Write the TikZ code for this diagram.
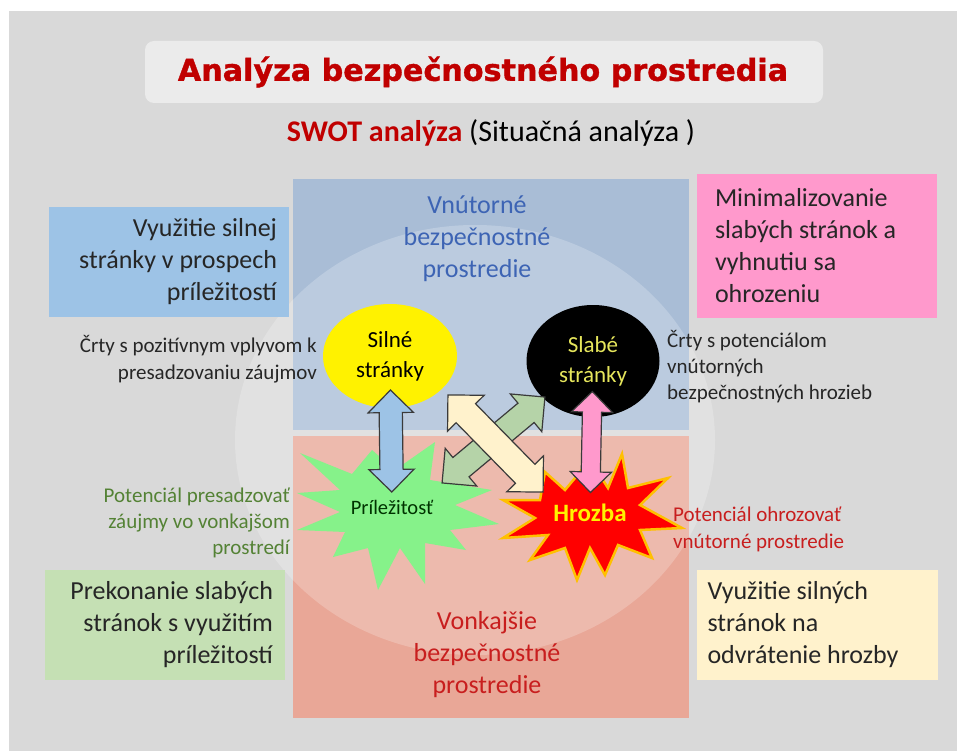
\documentclass[tikz,border=0pt]{standalone}
\usepackage{fontspec}
\setmainfont{Carlito}
\newfontfamily\titlefont{DejaVu Sans Bold}[FakeBold=1.2]
\usetikzlibrary{shapes.geometric,shapes.arrows}
\definecolor{slide}{HTML}{D9D9D9}
\definecolor{titlebox}{HTML}{EBEBEB}
\definecolor{darkred}{HTML}{C00000}
\definecolor{innerblue}{HTML}{A9BDD6}
\definecolor{outerred}{HTML}{E9A797}
\definecolor{boxblue}{HTML}{9DC3E6}
\definecolor{boxpink}{HTML}{FF99CC}
\definecolor{boxgreen}{HTML}{C5E0B4}
\definecolor{boxyellow}{HTML}{FFF2CC}
\definecolor{textdark}{HTML}{262626}
\definecolor{innertext}{HTML}{3D64B4}
\definecolor{outertext}{HTML}{C81E1E}
\definecolor{oppgreen}{HTML}{548235}
\definecolor{starred}{HTML}{FF0000}
\definecolor{starrim}{HTML}{FFC000}
\definecolor{stargreen}{HTML}{86F28A}
\definecolor{weakyellow}{HTML}{E6E65C}
\definecolor{arrowline}{HTML}{3A3A3A}
\definecolor{arrowblue}{HTML}{9DC3E6}
\definecolor{arrowpink}{HTML}{FF99CC}
\definecolor{arrowcream}{HTML}{FFF2CC}
\definecolor{arrowgreen}{HTML}{B5D3A8}
\tikzset{
  infobox/.style={inner ysep=0pt, minimum width=240pt, minimum height=110pt, text=textdark, font=\fontsize{26}{32}\selectfont},
  note/.style={inner sep=0pt, font=\fontsize{21}{26}\selectfont},
  fatarrow/.style={double arrow, draw=arrowline, line width=1.2pt, inner xsep=0pt, sloped},
}
\begin{document}
\begin{tikzpicture}[x=1pt, y=-1pt]
	\useasboundingbox (0,0) rectangle (957,751);
	\fill[white] (0,0) rectangle (957,751);
	\fill[slide] (9,11) rectangle (957,751);
	% title
	\fill[titlebox, rounded corners=9pt] (145,41) rectangle (823,103);
	\node (title) at (483,72) {\titlefont\fontsize{30.2}{34}\selectfont\color{darkred}Analýza bezpečnostného prostredia};
	\node (swot) at (491,133) {\fontsize{30}{36}\selectfont\textbf{\color{darkred}SWOT analýza} (Situačná analýza )};
	% environments
	\fill[innerblue] (293,179) rectangle (689,430);
	\fill[outerred] (293,436) rectangle (689,718);
	\fill[white, opacity=0.22] (475,440) ellipse [x radius=240pt, y radius=215pt];
	\node[align=center, text=innertext, font=\fontsize{26}{32}\selectfont] (inner) at (477,239) {Vnútorné\\bezpečnostné\\prostredie};
	\node[align=center, text=outertext, font=\fontsize{26}{32}\selectfont] (outer) at (487,655) {Vonkajšie\\bezpečnostné\\prostredie};
	% strategy boxes
	\node[infobox, fill=boxblue, inner xsep=12pt, text width=216pt, align=flush right] (so) at (169,262) {Využitie silnej\\stránky v prospech\\príležitostí};
	\node[infobox, fill=boxpink, inner xsep=18pt, text width=204pt, align=flush left, minimum height=143pt] (wt) at (817,246) {Minimalizovanie\\slabých stránok a\\vyhnutiu sa\\ohrozeniu};
	\node[infobox, fill=boxgreen, inner xsep=12pt, text width=216pt, align=flush right] (wo) at (165,625) {Prekonanie slabých\\stránok s využitím\\príležitostí};
	\node[infobox, fill=boxyellow, inner xsep=11pt, text width=219pt, align=flush left] (st) at (817,625) {Využitie silných\\stránok na\\odvrátenie hrozby};
	% notes
	\node[note, align=right, anchor=east, text=textdark, font=\fontsize{21}{27}\selectfont] (snote) at (317,359) {Črty s pozitívnym vplyvom k\\presadzovaniu záujmov};
	\node[note, align=left, anchor=west, text=textdark] (wnote) at (667,367) {Črty s potenciálom\\vnútorných\\bezpečnostných hrozieb};
	\node[note, align=right, anchor=east, text=oppgreen] (onote) at (290,523) {Potenciál presadzovať\\záujmy vo vonkajšom\\prostredí};
	\node[note, align=left, anchor=west, text=outertext, font=\fontsize{21}{27}\selectfont] (tnote) at (673,529) {Potenciál ohrozovať\\vnútorné prostredie};
	% opportunity and threat bursts
	\fill[stargreen] (297,493) -- (340,490) -- (300,453) -- (352,474) -- (372,450) -- (395,470) -- (435,442) -- (430,480) -- (492,490) -- (455,505) -- (499,524) -- (450,530) -- (466,550) -- (425,543) -- (425,584) -- (400,548) -- (378,590) -- (368,548) -- (333,557) -- (345,532) -- (297,530) -- (340,512) -- cycle;
	\draw[starrim, fill=starred, line width=2.5pt, line join=miter] (503,500) -- (540,500) -- (545,472) -- (565,490) -- (590,460) -- (608,488) -- (622,454) -- (628,488) -- (668,478) -- (640,505) -- (682,528) -- (640,530) -- (652,558) -- (618,545) -- (605,575) -- (590,548) -- (577,580) -- (565,548) -- (530,560) -- (548,535) -- (503,538) -- (535,518) -- cycle;
	\node[text=black!80!green, font=\fontsize{20.5}{24}\selectfont] (opp) at (392,507) {Príležitosť};
	\node[text=yellow, font=\bfseries\fontsize{25}{30}\selectfont] (threat) at (590,513) {Hrozba};
	% strengths and weaknesses
	\node[ellipse, fill=yellow, minimum width=134pt, minimum height=104pt, align=center, font=\fontsize{23}{30}\selectfont] (strong) at (390,356) {Silné\\stránky};
	\node[ellipse, fill=black, text=weakyellow, minimum width=133pt, minimum height=112pt, align=center, font=\fontsize{23}{30}\selectfont] (weak) at (593,361) {Slabé\\stránky};
	% links
	\coordinate (g1) at (442,483);
	\coordinate (g2) at (545,397);
	\coordinate (c1) at (448,395);
	\coordinate (c2) at (543,492);
	\path (strong.center) -- node[fatarrow, pos=0.563, fill=arrowblue, minimum height=102pt, inner ysep=11pt, double arrow head extend=11pt] (so link) {} (opp.center);
	\path (weak.center) -- node[fatarrow, pos=0.533, fill=arrowpink, minimum height=101pt, inner ysep=9pt, double arrow head extend=11pt] (wt link) {} (threat.center);
	\path (g1) -- node[fatarrow, fill=arrowgreen, minimum height=134pt, inner ysep=12pt, double arrow head extend=12pt] (wo link) {} (g2);
	\path (c1) -- node[fatarrow, fill=arrowcream, minimum height=136pt, inner ysep=13pt, double arrow head extend=12pt] (st link) {} (c2);
\end{tikzpicture}
\end{document}
